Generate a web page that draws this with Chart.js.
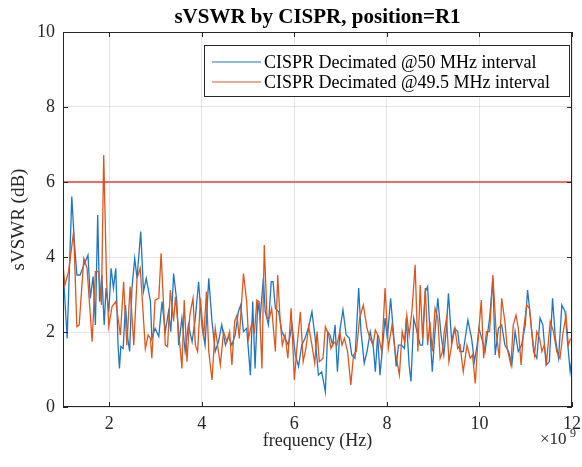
<!DOCTYPE html>
<html>
<head>
<meta charset="utf-8">
<script src="https://cdn.jsdelivr.net/npm/chart.js@4/dist/chart.umd.min.js"></script>
<style>
    body { margin: 0; background: #fff; }
    #wrap { width: 582px; height: 467px; }
</style>
</head>
<body>
<div id="wrap"><canvas id="graf" width="582" height="467"></canvas></div>
<script>
// frekvencije u GHz (os je u Hz, x10^9)
const plavaFrekv = [1.00,1.09,1.19,1.25,1.30,1.37,1.45,1.54,1.59,1.65,1.70,1.75,1.79,1.84,1.89,1.93,1.99,2.04,2.09,2.14,2.19,2.22,2.25,2.30,2.35,2.40,2.44,2.49,2.55,2.60,2.68,2.74,2.80,
    2.89,2.92,2.99,3.07,3.14,3.21,3.28,3.33,3.39,3.46,3.50,3.57,3.64,3.71,3.79,3.86,3.93,4.00,4.07,4.15,4.22,4.29,4.36,4.43,4.51,4.58,4.65,
    4.72,4.79,4.84,4.90,4.97,5.05,5.10,5.15,5.21,5.26,5.33,5.37,5.44,5.50,5.54,5.59,5.66,5.73,5.80,5.87,5.95,6.02,6.09,6.16,6.23,6.31,6.38,6.45,
    6.52,6.59,6.67,6.72,6.77,6.83,6.88,6.93,6.99,7.05,7.12,7.19,7.24,7.31,7.39,7.44,7.51,7.57,7.64,7.71,7.75,7.80,7.85,7.91,7.96,8.01,8.08,8.14,8.20,8.25,8.32,
    8.38,8.42,8.48,8.52,8.58,8.65,8.72,8.77,8.83,8.88,8.93,8.98,9.04,9.10,9.17,9.23,9.28,9.33,9.40,9.46,9.53,9.58,9.65,9.75,9.83,9.89,9.95,9.99,10.05,10.12,
    10.22,10.29,10.34,10.41,10.48,10.55,10.63,10.70,10.77,10.84,10.91,10.99,11.04,11.09,11.17,11.24,11.31,11.37,11.44,11.51,11.58,11.64,11.71,11.78,11.85,11.91,11.96,12.00];
const plavaVrij = [3.70,1.83,5.61,4.32,3.52,3.52,3.79,4.05,2.90,3.48,2.19,5.12,2.81,3.52,2.19,3.17,2.54,3.70,3.17,3.70,1.65,1.03,1.61,1.56,2.72,1.83,1.48,3.17,3.96,3.43,4.68,3.08,3.43,
    2.81,1.83,2.10,1.88,2.81,2.01,2.54,2.01,3.56,2.81,1.65,2.37,1.48,2.19,1.74,2.37,3.34,2.19,1.65,3.43,2.28,1.48,1.74,2.19,1.65,1.88,1.65,
    1.92,2.54,2.72,2.01,2.10,0.85,2.81,1.03,2.81,2.37,3.43,2.54,2.19,3.34,3.34,2.63,2.54,2.01,1.83,1.65,2.19,1.39,1.08,1.65,1.83,2.14,2.54,1.83,
    0.85,0.94,0.41,2.01,1.92,1.65,2.19,0.94,2.10,2.59,1.92,1.83,1.39,1.30,3.17,2.01,1.17,1.48,2.01,1.56,0.94,1.92,0.85,1.65,2.37,1.83,2.90,2.01,1.08,1.65,1.65,
    1.56,2.37,1.12,0.68,2.37,2.01,1.65,1.65,3.08,3.21,2.01,0.94,2.01,2.90,1.92,1.39,2.01,3.03,1.74,2.10,2.01,1.48,1.48,2.32,1.83,1.21,1.65,2.10,1.83,1.48,
    2.37,3.43,1.39,2.10,2.19,1.65,1.48,1.12,2.01,1.48,1.65,2.19,3.12,2.54,1.48,1.30,2.37,2.19,1.12,1.21,2.90,1.83,1.30,2.72,2.54,1.65,0.94,1.30];

const narancFrekv = [1.00,1.04,1.12,1.23,1.30,1.35,1.45,1.52,1.63,1.70,1.77,1.83,1.88,1.94,1.99,2.06,2.14,2.24,2.31,2.38,2.45,2.53,2.60,2.67,2.78,2.84,
    2.89,2.92,2.99,3.07,3.12,3.17,3.21,3.26,3.32,3.39,3.43,3.50,3.57,3.62,3.68,3.74,3.81,3.86,3.91,3.97,4.04,4.10,4.15,4.22,4.29,4.36,4.40,4.47,4.54,4.60,4.65,
    4.71,4.76,4.81,4.90,4.97,5.01,5.08,5.14,5.19,5.24,5.30,5.35,5.41,5.46,5.51,5.59,5.64,5.69,5.74,5.80,5.86,5.93,6.00,6.06,6.13,6.19,6.25,6.31,6.38,6.44,
    6.49,6.54,6.62,6.67,6.74,6.79,6.85,6.92,6.98,7.03,7.08,7.15,7.22,7.28,7.34,7.41,7.49,7.57,7.62,7.70,7.75,7.82,7.89,7.96,8.03,8.11,8.18,8.27,
    8.33,8.38,8.43,8.48,8.54,8.61,8.67,8.72,8.77,8.83,8.88,8.93,8.98,9.04,9.10,9.15,9.20,9.24,9.29,9.34,9.40,9.47,9.53,9.58,9.65,9.73,9.80,9.85,9.91,9.96,10.04,10.09,10.15,
    10.22,10.29,10.36,10.43,10.48,10.55,10.60,10.68,10.73,10.79,10.84,10.90,10.95,11.02,11.08,11.13,11.19,11.24,11.30,11.35,11.40,11.45,11.53,11.60,11.67,11.74,11.80,11.87,11.92,11.97];
const narancVrij = [3.79,3.25,3.61,4.68,2.14,2.19,3.96,3.70,1.74,3.61,3.61,2.72,6.72,3.43,2.14,2.68,2.81,1.92,3.34,1.65,3.21,1.65,3.43,3.70,1.56,1.92,
    1.83,1.30,2.85,2.90,4.10,2.81,1.65,1.61,3.12,2.28,2.94,2.01,1.03,2.85,1.21,2.45,2.90,1.65,1.48,2.90,1.83,3.08,1.48,0.72,2.10,1.48,1.12,2.01,1.74,2.01,1.12,
    2.28,2.45,1.83,3.56,2.81,1.83,2.23,2.01,2.85,2.81,1.03,4.32,2.37,2.37,2.63,1.48,3.52,2.37,1.65,1.92,1.30,2.63,0.72,1.65,2.54,1.21,1.56,2.14,1.65,1.17,
    2.01,1.21,1.30,2.14,1.92,1.56,1.74,1.65,2.01,1.65,1.83,1.48,0.59,1.39,1.48,2.37,2.72,2.10,1.88,1.65,2.05,1.88,1.48,3.17,1.56,2.19,1.48,0.85,
    2.01,1.74,2.45,1.92,2.54,3.79,1.48,3.25,1.83,3.17,1.65,2.28,1.48,2.63,2.37,1.30,1.48,2.01,2.37,1.21,1.65,2.10,1.56,1.65,0.94,1.65,1.30,1.39,0.63,1.65,2.85,1.30,2.01,
    2.01,3.52,2.01,1.30,2.90,2.28,1.56,1.12,2.19,2.45,2.10,1.12,2.01,2.72,2.63,2.01,1.39,2.01,1.83,1.48,1.65,1.21,2.28,2.01,1.48,1.30,1.92,2.45,1.65,1.83];

const granica = 6; // crvena linija praga
const xTickovi = [2, 4, 6, 8, 10, 12];
const yTickovi = [0, 2, 4, 6, 8, 10];
const nazivi = ['CISPR Decimated @50 MHz interval', 'CISPR Decimated @49.5 MHz interval'];

const PLAVA = '#1f77c0';
const NARANC = '#d9581f';
const font = '"Liberation Serif", "Times New Roman", serif';

function parovi(frekv, vrij) {
    return frekv.map(function(f, i) { return { x: f, y: vrij[i] }; });
}

// okvir, unutarnji tickovi, legenda i eksponent osi
const matlabOkvir = {
    id: 'matlabOkvir',
    afterDraw(chart) {
        const ctx = chart.ctx;
        const a = chart.chartArea;
        const sx = chart.scales.x, sy = chart.scales.y;
        ctx.save();
        ctx.strokeStyle = '#262626';
        ctx.lineWidth = 1;
        ctx.strokeRect(Math.round(a.left) + 0.5, Math.round(a.top) + 0.5, Math.round(a.right - a.left) - 1, Math.round(a.bottom - a.top) - 1);
        ctx.beginPath();
        xTickovi.forEach(function(v) {
            const px = Math.round(sx.getPixelForValue(v)) + 0.5;
            ctx.moveTo(px, a.bottom); ctx.lineTo(px, a.bottom - 5);
            ctx.moveTo(px, a.top); ctx.lineTo(px, a.top + 5);
        });
        yTickovi.forEach(function(v) {
            const py = Math.round(sy.getPixelForValue(v)) + 0.5;
            ctx.moveTo(a.left, py); ctx.lineTo(a.left + 5, py);
            ctx.moveTo(a.right, py); ctx.lineTo(a.right - 5, py);
        });
        ctx.stroke();

        // legenda
        const lx = a.right - 368, ly = a.top + 13, lw = 365, lh = 51;
        ctx.fillStyle = '#fff';
        ctx.fillRect(lx, ly, lw, lh);
        ctx.strokeStyle = '#262626';
        ctx.strokeRect(lx + 0.5, ly + 0.5, lw, lh);
        ctx.font = '18px ' + font;
        ctx.textBaseline = 'middle';
        chart.data.datasets.slice(0, 2).forEach(function(ds, i) {
            const y = ly + 17 + i * 20;
            ctx.strokeStyle = ds.borderColor;
            ctx.lineWidth = 1.2;
            ctx.beginPath();
            ctx.moveTo(lx + 8, y); ctx.lineTo(lx + 57, y);
            ctx.stroke();
            ctx.fillStyle = '#000';
            ctx.fillText(ds.label, lx + 60, y + 1);
        });

        // x10^9
        ctx.fillStyle = '#262626';
        ctx.textBaseline = 'alphabetic';
        ctx.font = '17px ' + font;
        ctx.fillText('\u00d710', a.right - 32, a.bottom + 37);
        ctx.font = '12px ' + font;
        ctx.fillText('9', a.right - 2, a.bottom + 30);
        ctx.restore();
    }
};

new Chart(document.getElementById('graf'), {
    type: 'line',
    data: {
        datasets: [
            { label: nazivi[0], data: parovi(plavaFrekv, plavaVrij), borderColor: PLAVA, borderWidth: 1.3, pointRadius: 0, tension: 0, order: 2 },
            { label: nazivi[1], data: parovi(narancFrekv, narancVrij), borderColor: NARANC, borderWidth: 1.3, pointRadius: 0, tension: 0, order: 1 },
            { label: 'prag', data: [{ x: 1, y: granica }, { x: 12, y: granica }], borderColor: '#f03c3c', borderWidth: 1.4, pointRadius: 0, order: 0 }
        ]
    },
    options: {
        responsive: false,
        animation: false,
        layout: { padding: { left: 0, right: 10, top: 0, bottom: 0 } },
        plugins: {
            legend: { display: false },
            tooltip: { enabled: false },
            title: {
                display: true,
                fullSize: false,
                text: 'sVSWR by CISPR, position=R1',
                color: '#000',
                font: { family: font, size: 21, weight: 'bold', lineHeight: 1.2 },
                padding: { top: 5, bottom: 1.8 }
            }
        },
        scales: {
            x: {
                type: 'linear',
                min: 1, max: 12,
                afterBuildTicks: function(s) { s.ticks = xTickovi.map(function(v) { return { value: v }; }); },
                afterFit: function(s) { s.height = 60; s.paddingRight = 0; s.paddingLeft = 0; },
                grid: { color: 'rgba(0,0,0,0.1)', drawTicks: false },
                border: { display: false },
                ticks: { color: '#262626', padding: 6, maxRotation: 0, font: { family: font, size: 18 } },
                title: { display: true, text: 'frequency (Hz)', color: '#262626', font: { family: font, size: 18, lineHeight: 1.2 }, padding: { bottom: 15 } }
            },
            y: {
                min: 0, max: 10,
                afterBuildTicks: function(s) { s.ticks = yTickovi.map(function(v) { return { value: v }; }); },
                afterFit: function(s) { s.width = 63; },
                grid: { color: 'rgba(0,0,0,0.1)', drawTicks: false },
                border: { display: false },
                ticks: { color: '#262626', padding: 8, font: { family: font, size: 18 } },
                title: { display: true, text: 'sVSWR (dB)', color: '#262626', font: { family: font, size: 19, lineHeight: 1.2 }, padding: { top: 8 } }
            }
        }
    },
    plugins: [matlabOkvir]
});
</script>
</body>
</html>
